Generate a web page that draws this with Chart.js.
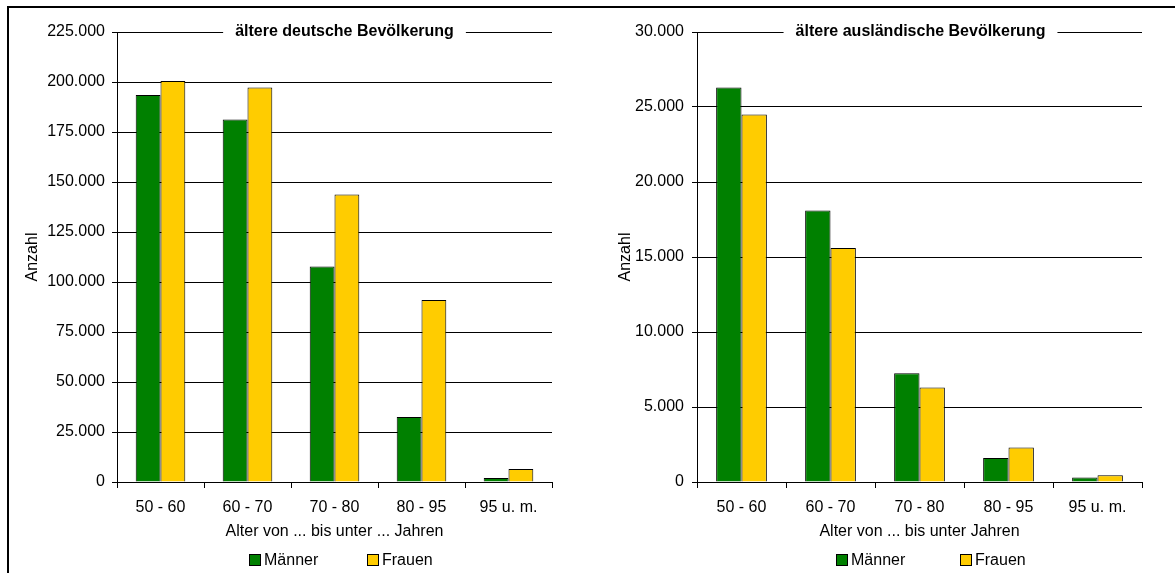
<!DOCTYPE html>
<html>
<head>
<meta charset="utf-8">
<script src="https://cdn.jsdelivr.net/npm/chart.js@4/dist/chart.umd.min.js"></script>
<style>
  body { margin: 0; width: 1175px; height: 573px; overflow: hidden; position: relative; background: #fff;
         font-family: "Liberation Sans", Arial, sans-serif; }
  #frame { position: absolute; left: 7px; top: 6px; width: 1168px; height: 567px;
           border-top: 2px solid #000; border-left: 2px solid #000; }
  canvas { position: absolute; }
  .box { position: absolute; width: 10px; height: 10px; border: 1px solid #000; }
  .txt { position: absolute; font-size: 16px; line-height: 16px; color: #000; white-space: nowrap; }
</style>
</head>
<body>
<div id="frame"></div>
<canvas id="left" width="581" height="565" style="left:9px;top:8px"></canvas>
<canvas id="right" width="585" height="565" style="left:590px;top:8px"></canvas>
<script>
// age groups
const categories = ['50 - 60', '60 - 70', '70 - 80', '80 - 95', '95 u. m.'];
const seriesNames = ['Männer', 'Frauen'];
const seriesColors = ['#008000', '#ffcc00'];

// ältere deutsche Bevölkerung
const deutschMaenner = [193500, 181300, 107700, 32500, 2000];
const deutschFrauen  = [200500, 197200, 143800, 91000, 6500];

// ältere ausländische Bevölkerung
const auslMaenner = [26300, 18100, 7250, 1600, 300];
const auslFrauen  = [24500, 15600, 6300, 2300, 450];

Chart.defaults.font.family = '"Liberation Sans", Arial, sans-serif';
Chart.defaults.font.size = 16;
Chart.defaults.color = '#000';

function fmt(v) {
  return String(v).replace(/\B(?=(\d{3})+(?!\d))/g, '.');
}

// title sitting on the top gridline
const panelTitle = {
  id: 'panelTitle',
  beforeDatasetsDraw(chart, args, opts) {
    const ctx = chart.ctx, area = chart.chartArea;
    ctx.save();
    ctx.font = 'bold 16px "Liberation Sans", Arial, sans-serif';
    let w = ctx.measureText(opts.text).width;
    let cx = (area.left + area.right) / 2 + opts.shift;
    ctx.fillStyle = '#fff';
    ctx.fillRect(cx - w / 2 - opts.gap, area.top - 3, w + 2 * opts.gap, 6);
    ctx.fillStyle = '#000';
    ctx.textAlign = 'center';
    ctx.textBaseline = 'middle';
    ctx.fillText(opts.text, cx, area.top);
    ctx.restore();
  }
};

function makeChart(id, men, women, max, step, title, xTitle, o) {
  return new Chart(document.getElementById(id), {
    type: 'bar',
    data: {
      labels: categories,
      datasets: [
        { label: seriesNames[0], data: men, backgroundColor: seriesColors[0], borderColor: '#000', borderWidth: 1 },
        { label: seriesNames[1], data: women, backgroundColor: seriesColors[1], borderColor: '#000', borderWidth: 1 }
      ]
    },
    options: {
      responsive: false,
      animation: false,
      devicePixelRatio: 1,
      categoryPercentage: 0.57,
      barPercentage: 1,
      layout: { padding: { top: 24, right: o.padRight, bottom: 0, left: 0 } },
      plugins: {
        legend: { display: false },
        tooltip: { enabled: false },
        panelTitle: { text: title, shift: o.shift, gap: 12 }
      },
      scales: {
        x: {
          afterFit(s) { s.height = 91; },
          grid: { display: true, drawOnChartArea: false, offset: true, tickLength: 6, color: '#000' },
          border: { color: '#000' },
          ticks: { padding: 10, color: '#000' },
          title: { display: true, text: xTitle, padding: { top: 0, bottom: 32 } }
        },
        y: {
          min: 0,
          max: max,
          afterFit(s) { s.width = o.yWidth; },
          grid: { color: '#000', tickLength: 5 },
          border: { color: '#000' },
          ticks: { stepSize: step, padding: o.tickPad, color: '#000', callback: v => fmt(v) },
          title: { display: true, text: 'Anzahl', padding: { top: o.yTitlePad, bottom: 0 } }
        }
      }
    },
    plugins: [panelTitle]
  });
}

function makeLegend(boxX) {
  seriesNames.forEach((name, i) => {
    let b = document.createElement('div');
    b.className = 'box';
    b.style.left = boxX[i] + 'px';
    b.style.top = '554px';
    b.style.background = seriesColors[i];
    document.body.appendChild(b);
    let t = document.createElement('div');
    t.className = 'txt';
    t.style.left = (boxX[i] + 15) + 'px';
    t.style.top = '552px';
    t.textContent = name;
    document.body.appendChild(t);
  });
}

makeChart('left', deutschMaenner, deutschFrauen, 225000, 25000,
  'ältere deutsche Bevölkerung', 'Alter von ... bis unter ... Jahren',
  { padRight: 38, yWidth: 108, tickPad: 7, yTitlePad: 14, shift: 10 });
makeChart('right', auslMaenner, auslFrauen, 30000, 5000,
  'ältere ausländische Bevölkerung', 'Alter von ... bis unter Jahren',
  { padRight: 33, yWidth: 107, tickPad: 8, yTitlePad: 26, shift: 1 });

makeLegend([249, 367]);
makeLegend([836, 960]);
</script>
</body>
</html>
